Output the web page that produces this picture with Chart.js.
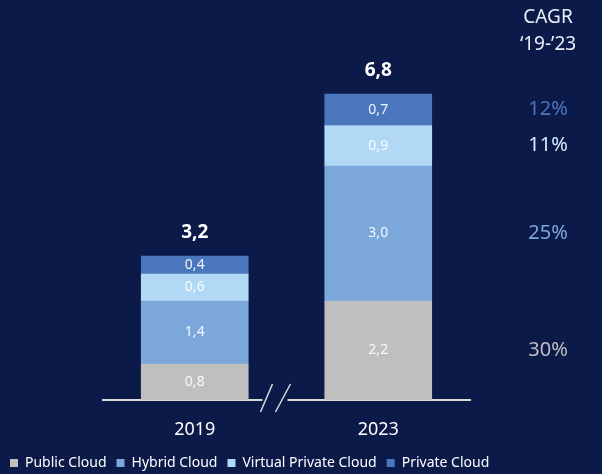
<!DOCTYPE html>
<html>
<head>
<meta charset="utf-8">
<script src="https://cdn.jsdelivr.net/npm/chart.js@4"></script>
<style>
  html, body { margin: 0; padding: 0; background: #0c1a4a; }
  #wrap { width: 602px; height: 474px; }
</style>
</head>
<body>
<div id="wrap"><canvas id="cloudChart"></canvas></div>
<script>
const years = ['2019', '2023'];
const seriesNames = ['Public Cloud', 'Hybrid Cloud', 'Virtual Private Cloud', 'Private Cloud'];
const publicCloud = [0.8, 2.2];
const hybridCloud = [1.4, 3.0];
const virtualPrivateCloud = [0.6, 0.9];
const privateCloud = [0.4, 0.7];
const totals = [3.2, 6.8];
const cagr = ['30%', '25%', '11%', '12%'];

const BG = '#0c1a4a';
const colors = ['#bfbfbf', '#7ba7da', '#b1d9f5', '#4a76bd'];
const cagrColors = ['#bfbfbf', '#7ba7da', '#d6ebfb', '#4a76bd'];
const FONT = "'Noto Sans', sans-serif";
const PAD_BOTTOM = -6;

const fmt = v => v.toFixed(1).replace('.', ',');

const labelsPlugin = {
    id: 'labels',
    beforeDraw(chart) {
        const ctx = chart.ctx;
        ctx.save();
        ctx.fillStyle = BG;
        ctx.fillRect(0, 0, chart.width, chart.height);
        ctx.restore();
    },
    afterDatasetsDraw(chart) {
        const ctx = chart.ctx;
        ctx.save();
        ctx.textAlign = 'center';
        ctx.textBaseline = 'middle';

        // values inside segments
        ctx.font = '14px ' + FONT;
        ctx.fillStyle = 'rgba(255,255,255,0.92)';
        chart.data.datasets.forEach((ds, i) => {
            const meta = chart.getDatasetMeta(i);
            meta.data.forEach((bar, j) => {
                ctx.fillText(fmt(ds.data[j]), bar.x, (bar.y + bar.base) / 2);
            });
        });

        // totals on top
        const last = chart.getDatasetMeta(chart.data.datasets.length - 1);
        ctx.font = 'bold 19px ' + FONT;
        ctx.fillStyle = '#ffffff';
        last.data.forEach((bar, j) => {
            ctx.fillText(fmt(totals[j]), bar.x, bar.y - 23);
        });

        // CAGR column
        const cx = 548;
        ctx.font = '19px ' + FONT;
        ctx.fillStyle = '#e8eef8';
        ctx.fillText('CAGR', cx, 18);
        ctx.fillText('\u201819-\u201923', cx, 45);
        ctx.font = '20px ' + FONT;
        chart.data.datasets.forEach((ds, i) => {
            const bar = chart.getDatasetMeta(i).data[1];
            ctx.fillStyle = cagrColors[i];
            ctx.fillText(cagr[i], cx, (bar.y + bar.base) / 2);
        });

        // axis break
        const x = chart.scales.x.getPixelForValue(0.44);
        const y = chart.scales.y.getPixelForValue(0);
        ctx.fillStyle = BG;
        ctx.fillRect(x - 13, y - 4, 25, 8);
        ctx.strokeStyle = '#d9d9d9';
        ctx.lineWidth = 1.5;
        ctx.beginPath();
        ctx.moveTo(x - 15, y + 12);
        ctx.lineTo(x - 3, y - 16);
        ctx.moveTo(x, y + 12);
        ctx.lineTo(x + 15, y - 16);
        ctx.stroke();
        ctx.restore();
    }
};

const seriesData = [publicCloud, hybridCloud, virtualPrivateCloud, privateCloud];

new Chart(document.getElementById('cloudChart'), {
    type: 'bar',
    data: {
        labels: years,
        datasets: seriesNames.map((name, i) => ({
            label: name,
            data: seriesData[i],
            backgroundColor: colors[i],
            borderWidth: 0,
            barThickness: 107
        }))
    },
    options: {
        responsive: true,
        maintainAspectRatio: false,
        animation: false,
        layout: { padding: { top: 40, left: 0, right: 0, bottom: PAD_BOTTOM } },
        scales: {
            x: {
                stacked: true,
                grid: { display: false },
                border: { display: true, color: '#d9d9d9', width: 2 },
                ticks: { color: '#ffffff', font: { family: FONT, size: 18 }, padding: 11 },
                afterFit(scale) {
                    const lg = scale.chart.legend;
                    scale.height = 74 - PAD_BOTTOM - (lg ? lg.height : 28);
                }
            },
            y: {
                stacked: true,
                min: 0,
                max: 8,
                grid: { display: false },
                border: { display: false },
                ticks: { display: false },
                afterFit(scale) { scale.width = 103; }
            },
            yr: {
                position: 'right',
                grid: { display: false },
                border: { display: false },
                ticks: { display: false },
                afterFit(scale) { scale.width = 132; }
            }
        },
        plugins: {
            legend: {
                position: 'bottom',
                align: 'start',
                labels: {
                    color: '#ffffff',
                    font: { family: FONT, size: 14 },
                    boxWidth: 8,
                    boxHeight: 8,
                    padding: 10
                }
            },
            tooltip: { enabled: false }
        }
    },
    plugins: [labelsPlugin]
});
</script>
</body>
</html>
